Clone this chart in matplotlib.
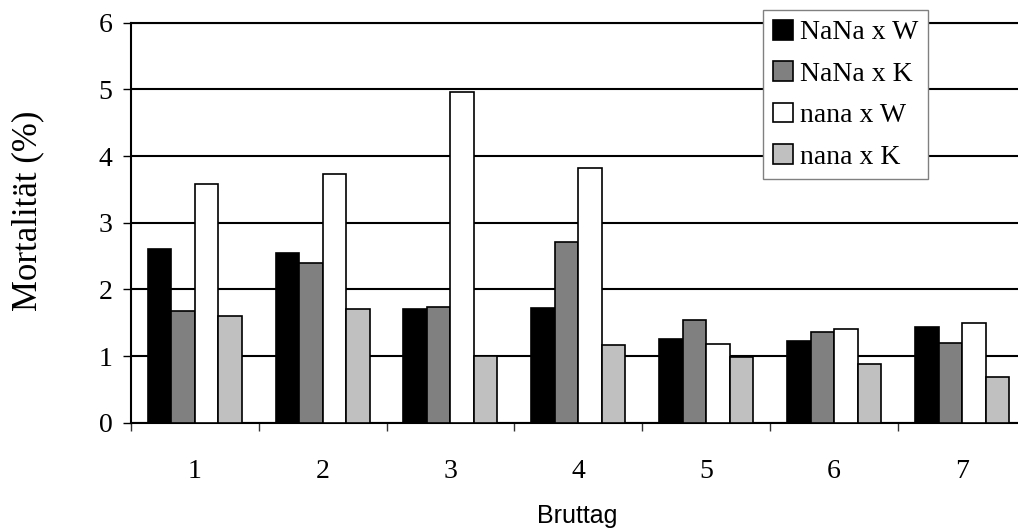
import matplotlib
matplotlib.use("Agg")
import matplotlib.pyplot as plt
import numpy as np

# Mortality per brood day for the four crosses
days = ["1", "2", "3", "4", "5", "6", "7"]
series_names = ["NaNa x W", "NaNa x K", "nana x W", "nana x K"]
NaNa_x_W = [2.61, 2.55, 1.71, 1.72, 1.25, 1.23, 1.44]
NaNa_x_K = [1.68, 2.39, 1.73, 2.71, 1.54, 1.36, 1.20]
nana_x_W = [3.58, 3.73, 4.96, 3.82, 1.18, 1.41, 1.49]
nana_x_K = [1.60, 1.70, 1.00, 1.17, 0.98, 0.88, 0.69]
y_ticks = [0, 1, 2, 3, 4, 5, 6]

series = [NaNa_x_W, NaNa_x_K, nana_x_W, nana_x_K]
colors = ["#000000", "#808080", "#ffffff", "#c0c0c0"]

W, H, DPI = 1018, 532, 100
fig = plt.figure(figsize=(W / DPI, H / DPI), dpi=DPI)
ax = fig.add_axes([130.7 / W, 1 - 422.7 / H, (1026 - 130.7) / W, (422.7 - 22.7) / H])

serif = "Liberation Serif"
sans = "Liberation Sans"

x = np.arange(len(days))
bw = 0.1836
for i, (vals, col, name) in enumerate(zip(series, colors, series_names)):
    ax.bar(x + (i - 1.5) * bw, vals, width=bw, color=col, edgecolor="black",
           linewidth=1.2, label=name, zorder=3)

ax.set_xlim(-0.5, len(days) - 0.5)
ax.set_ylim(0, 6)

# category separators as major ticks, labels at centres as minor ticks
ax.set_xticks(np.arange(-0.5, len(days), 1.0))
ax.set_xticklabels([])
ax.set_xticks(x, minor=True)
ax.set_xticklabels(days, minor=True, fontfamily=serif, fontsize=20)
ax.tick_params(axis="x", which="major", direction="out", length=6, width=1.0, color="#333333")
ax.tick_params(axis="x", which="minor", length=0, pad=26)

ax.set_yticks(y_ticks)
ax.set_yticklabels([str(t) for t in y_ticks], fontfamily=serif, fontsize=20)
ax.tick_params(axis="y", direction="out", length=6, width=1.0, pad=7)

ax.set_axisbelow(True)
ax.yaxis.grid(True, color="black", linewidth=1.5)
ax.xaxis.grid(False)

ax.spines["right"].set_visible(False)
ax.spines["top"].set_linewidth(1.5)
ax.spines["left"].set_linewidth(1.5)
ax.spines["bottom"].set_linewidth(1.5)

fig.text(28 / W, 1 - 211 / H, "Mortalität (%)", rotation=90, ha="center", va="center",
         fontfamily=serif, fontsize=25)
fig.text(577 / W, 1 - 516 / H, "Bruttag", ha="center", va="center",
         fontfamily=sans, fontsize=18)

leg = ax.legend(loc="upper left", bbox_to_anchor=(763 / W, 1 - 10 / H),
                bbox_transform=fig.transFigure, borderaxespad=0,
                prop={"family": serif, "size": 20}, handlelength=0.72,
                handleheight=0.72, handletextpad=0.25, labelspacing=0.57,
                borderpad=0.35, fancybox=False, framealpha=1, frameon=True)
leg.get_frame().set_edgecolor("#808080")
leg.get_frame().set_linewidth(1.0)
leg.set_zorder(5)

fig.savefig("out.png", dpi=DPI)
